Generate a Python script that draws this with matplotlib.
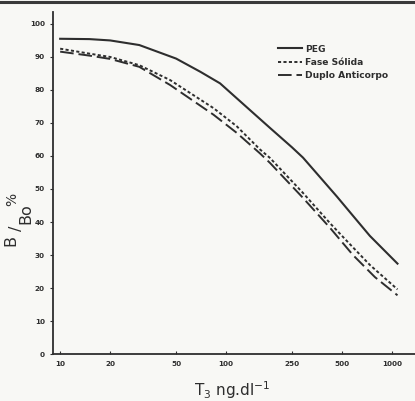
import matplotlib.pyplot as plt
from matplotlib.lines import Line2D

# values
peg_x = [10, 15, 20, 30, 50, 70, 92, 146, 184, 250, 291, 466, 582, 736, 1080]
peg_y = [95.5, 95.4, 95.0, 93.6, 89.5, 85.5, 82.0, 73.0, 68.5, 62.6, 59.5, 47.7, 41.9, 35.8, 27.4]

solida_x = [10, 15, 20, 30, 46, 84, 116, 160, 184, 291, 424, 536, 736, 1080]
solida_y = [92.5, 91.0, 90.0, 87.5, 83.0, 74.5, 69.0, 62.0, 59.4, 48.8, 39.6, 34.2, 27.0, 19.6]

dupla_x = [10, 15, 20, 30, 46, 84, 116, 160, 184, 291, 424, 582, 790, 1080]
dupla_y = [91.6, 90.4, 89.4, 87.0, 81.5, 72.5, 67.0, 60.8, 57.9, 47.3, 38.2, 30.0, 23.3, 17.8]

x_ticks = [10, 20, 50, 100, 250, 500, 1000]
y_ticks = list(range(0, 101, 10))

INK = "#2e2e2e"
PAPER = "#f8f8f5"

fig = plt.figure(figsize=(4.15, 4.01), dpi=100)
fig.patch.set_facecolor(PAPER)
ax = fig.add_axes([0.128, 0.117, 0.872, 0.853])
ax.set_facecolor(PAPER)

ax.plot(peg_x, peg_y, color=INK, lw=1.5, label="PEG")
ax.plot(solida_x, solida_y, color=INK, lw=1.4, linestyle=(0, (1.6, 1.2)), label="Fase Sólida")
ax.plot(dupla_x, dupla_y, color=INK, lw=1.4, linestyle=(0, (7, 2.5)), label="Duplo Anticorpo")

ax.set_xscale("log")
ax.set_xlim(9.07, 1377)
ax.set_ylim(0, 103.6)
ax.set_xticks(x_ticks)
ax.set_xticklabels([str(v) for v in x_ticks])
ax.minorticks_off()
ax.set_yticks(y_ticks)

for s in ["top", "right"]:
    ax.spines[s].set_visible(False)
for s in ["left", "bottom"]:
    ax.spines[s].set_color(INK)
    ax.spines[s].set_linewidth(1.3)

ax.tick_params(axis="x", direction="in", length=2.5, width=0.8, color=INK, pad=5)
ax.tick_params(axis="y", direction="out", length=2, width=0.8, color=INK, pad=4)
for lab in ax.get_xticklabels() + ax.get_yticklabels():
    lab.set_fontsize(5.2)
    lab.set_fontweight("bold")
    lab.set_color(INK)

leg = ax.legend(
    loc="upper left",
    bbox_to_anchor=(0.598, 0.929),
    frameon=False,
    handlelength=2.6,
    handletextpad=0.4,
    labelspacing=0.48,
    prop={"size": 6.6, "weight": "bold"},
)
for t in leg.get_texts():
    t.set_color(INK)

fig.text(0.56, 0.027, r"T$_3$ ng.dl$^{-1}$", fontsize=11, color=INK, ha="center", va="center")

# y label "B/Bo %" built from pieces, rotated like the scan
ylab = dict(color=INK, rotation=90, ha="center", va="center")
fig.text(0.027, 1 - 240 / 401, "B", fontsize=11.5, **ylab)
fig.text(0.040, 1 - 228 / 401, "/", fontsize=11.5, **ylab)
fig.text(0.063, 1 - 214 / 401, "Bo", fontsize=11.5, **ylab)
fig.text(0.030, 1 - 199 / 401, "%", fontsize=10, **ylab)

# dark page edge across the top of the scan
fig.add_artist(Line2D([0, 1], [0.996, 0.996], color="#3a3a3a", lw=2.2, transform=fig.transFigure))

fig.savefig("out.png", dpi=100, facecolor=PAPER)
